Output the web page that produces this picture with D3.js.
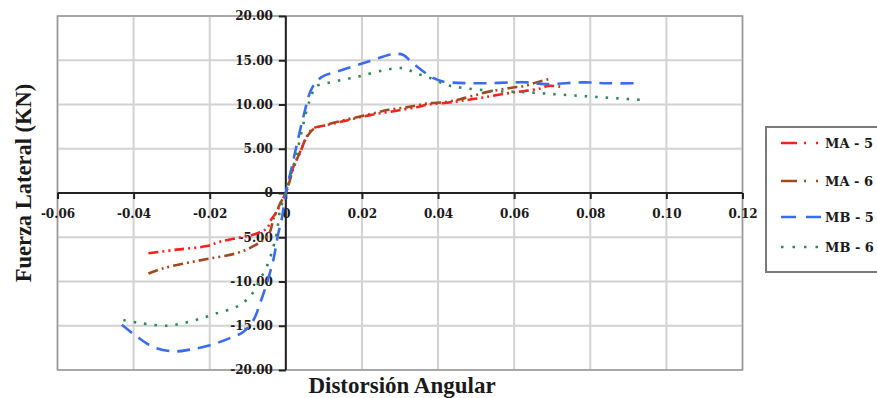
<!DOCTYPE html>
<html>
<head>
<meta charset="utf-8">
<script src="https://cdn.jsdelivr.net/npm/d3@7"></script>
<style>
  html, body { margin: 0; padding: 0; background: #ffffff; }
  svg { display: block; }
</style>
</head>
<body>
<svg id="chart" width="877" height="398"></svg>
<script>
// ---------------- DATA ----------------
const seriesNames = ["MA - 5", "MA - 6", "MB - 5", "MB - 6"];

const xTicks = [-0.06, -0.04, -0.02, 0, 0.02, 0.04, 0.06, 0.08, 0.10, 0.12];
const yTicks = [-20, -15, -10, -5, 0, 5, 10, 15, 20];

// [distorsión angular, fuerza lateral (KN)]
const ma5 = [
  [-0.0361, -6.8], [-0.0287, -6.4], [-0.0208, -6.0], [-0.0173, -5.5], [-0.0129, -5.1],
  [-0.0085, -4.7], [-0.0050, -4.0], [-0.0037, -2.9], [-0.0025, -2.2], [-0.0010, -0.8], [0, 0],
  [0.0020, 3.0], [0.0037, 4.5], [0.0055, 6.4], [0.0072, 7.3], [0.0099, 7.6], [0.0160, 8.2],
  [0.0221, 8.8], [0.0291, 9.3], [0.0344, 9.7], [0.0375, 10.0], [0.0423, 10.2], [0.0475, 10.5],
  [0.0519, 10.8], [0.0572, 11.2], [0.0624, 11.5], [0.0668, 11.8], [0.0690, 12.1], [0.0725, 12.0]
];
const ma6 = [
  [-0.0361, -9.1], [-0.0322, -8.5], [-0.0260, -7.9], [-0.0199, -7.4], [-0.0129, -6.8],
  [-0.0094, -6.2], [-0.0059, -5.3], [-0.0042, -4.4], [-0.0033, -3.0], [-0.0015, -1.2], [0, 0],
  [0.0020, 2.8], [0.0037, 4.6], [0.0055, 6.3], [0.0072, 7.2], [0.0099, 7.6], [0.0160, 8.3],
  [0.0220, 8.9], [0.0270, 9.4], [0.0320, 9.7], [0.0370, 10.1], [0.0423, 10.3], [0.0458, 10.6],
  [0.0502, 11.1], [0.0528, 11.4], [0.0594, 11.9], [0.0629, 12.1], [0.0659, 12.5], [0.0694, 12.9]
];
const mb5 = [
  [-0.0431, -14.9], [-0.0392, -16.2], [-0.0348, -17.4], [-0.0296, -17.9], [-0.0252, -17.7],
  [-0.0199, -17.2], [-0.0147, -16.4], [-0.0112, -15.7], [-0.0085, -14.35], [-0.0068, -12.5],
  [-0.0050, -10.2], [-0.0033, -7.6], [-0.0020, -4.6], [-0.0011, -3.0], [0, 0],
  [0.0016, 3.0], [0.0046, 8.6], [0.0068, 11.8], [0.0094, 13.1], [0.0134, 13.7], [0.0213, 14.8],
  [0.0283, 15.7], [0.0309, 15.6], [0.0330, 14.8], [0.0387, 13.0], [0.0413, 12.6], [0.0500, 12.4],
  [0.0634, 12.5], [0.0680, 12.3], [0.0780, 12.5], [0.0844, 12.4], [0.0918, 12.4]
];
const mb6 = [
  [-0.0427, -14.35], [-0.0383, -14.7], [-0.0313, -15.0], [-0.0269, -14.7], [-0.0225, -14.2],
  [-0.0182, -13.6], [-0.0129, -12.85], [-0.0094, -11.7], [-0.0068, -9.8], [-0.0046, -7.9],
  [-0.0033, -6.1], [-0.0024, -4.6], [-0.0015, -1.9], [0, 0],
  [0.0010, 1.8], [0.0024, 3.7], [0.0055, 9.4], [0.0068, 11.1], [0.0077, 12.0], [0.0107, 12.4],
  [0.0151, 12.8], [0.0195, 13.2], [0.0260, 13.9], [0.0309, 14.1], [0.0344, 13.5], [0.0379, 13.0],
  [0.0423, 12.2], [0.0445, 12.0], [0.0480, 11.8], [0.0554, 11.5], [0.0624, 11.4], [0.0694, 11.2],
  [0.0765, 11.0], [0.0800, 10.9], [0.0834, 10.8], [0.0870, 10.7], [0.0905, 10.6], [0.0940, 10.5]
];

const xTitle = "Distorsión Angular";
const yTitle = "Fuerza Lateral (KN)";

// ---------------- STYLE ----------------
const seriesData = [ma5, ma6, mb5, mb6];
const colors = ["#ff1f1f", "#a4481f", "#3a6cf2", "#2e8b57"];
const dashes = ["10,4,2,4,2,4", "10,4,2,4,2,4", "13,8", "2.5,8"];
const legendDashes = ["16,7,2,10,2,8", "16,7,2,10,2,8", "15,10", "2.5,9"];

const svg = d3.select("#chart");
const x = d3.scaleLinear().domain([-0.06, 0.12]).range([57.5, 742.5]);
const y = d3.scaleLinear().domain([-20, 20]).range([370, 16]);

// gridlines
const grid = svg.append("g");
grid.selectAll("line.v").data(xTicks).join("line")
  .attr("x1", d => x(d)).attr("x2", d => x(d))
  .attr("y1", y(20)).attr("y2", y(-20))
  .attr("stroke", "#d2d2d2").attr("stroke-width", 2);
grid.selectAll("line.h").data(yTicks).join("line")
  .attr("x1", x(-0.06)).attr("x2", x(0.12))
  .attr("y1", d => y(d)).attr("y2", d => y(d))
  .attr("stroke", "#d2d2d2").attr("stroke-width", 2);

// plot border
svg.append("rect")
  .attr("x", x(-0.06)).attr("y", y(20))
  .attr("width", x(0.12) - x(-0.06)).attr("height", y(-20) - y(20))
  .attr("fill", "none").attr("stroke", "#9a9a9a").attr("stroke-width", 1.5);

const locale = d3.formatLocale({decimal: ".", thousands: ",", grouping: [3], currency: ["", ""], minus: "-"});
const f2 = locale.format(".2f");
const fmt = d => d === 0 ? "0" : f2(d);
const tickFont = "'DejaVu Serif', serif";

// Y axis at x = 0
const yAxis = svg.append("g")
  .attr("transform", `translate(${x(0)},0)`)
  .call(d3.axisLeft(y).tickValues(yTicks).tickFormat(fmt).tickSize(7).tickPadding(6));
yAxis.select(".domain").remove();
yAxis.selectAll(".tick line").attr("stroke", "#222").attr("stroke-width", 2);
yAxis.selectAll(".tick text")
  .attr("font-family", tickFont).attr("font-weight", "bold").attr("font-size", 12)
  .attr("fill", "#1a1a1a");

// X axis at y = 0
const xAxis = svg.append("g")
  .attr("transform", `translate(0,${y(0)})`)
  .call(d3.axisBottom(x).tickValues(xTicks).tickFormat(fmt).tickSize(6).tickPadding(10));
xAxis.select(".domain").remove();
xAxis.selectAll(".tick line").attr("stroke", "#222").attr("stroke-width", 2);
xAxis.selectAll(".tick text")
  .attr("font-family", tickFont).attr("font-weight", "bold").attr("font-size", 12)
  .attr("fill", "#1a1a1a");

// axis lines
svg.append("line")
  .attr("x1", x(-0.06)).attr("x2", x(0.12)).attr("y1", y(0)).attr("y2", y(0))
  .attr("stroke", "#222").attr("stroke-width", 2);
svg.append("line")
  .attr("x1", x(0)).attr("x2", x(0)).attr("y1", y(20)).attr("y2", y(-20))
  .attr("stroke", "#222").attr("stroke-width", 2);

// series lines
const line = d3.line()
  .x(d => x(d[0])).y(d => y(d[1]))
  .curve(d3.curveCatmullRom.alpha(0.5));

svg.append("g").selectAll("path").data(seriesData).join("path")
  .attr("d", d => line(d))
  .attr("fill", "none")
  .attr("stroke", (d, i) => colors[i])
  .attr("stroke-width", 2.6)
  .attr("stroke-dasharray", (d, i) => dashes[i]);

// Titles
svg.append("text")
  .attr("x", 402).attr("y", 393)
  .attr("text-anchor", "middle")
  .attr("font-family", "'Liberation Serif', serif").attr("font-weight", "bold")
  .attr("font-size", 23).attr("fill", "#1a1a1a")
  .text(xTitle);

svg.append("text")
  .attr("transform", "translate(31,183) rotate(-90)")
  .attr("text-anchor", "middle")
  .attr("font-family", "'Liberation Serif', serif").attr("font-weight", "bold")
  .attr("font-size", 22.5).attr("fill", "#1a1a1a")
  .text(yTitle);

// Legend
const legend = svg.append("g");
legend.append("rect")
  .attr("x", 766).attr("y", 127).attr("width", 140).attr("height", 145)
  .attr("fill", "#fff").attr("stroke", "#7a7a7a").attr("stroke-width", 2);
const legendY = [143, 181, 217, 247];
const items = legend.selectAll("g.item").data(seriesNames).join("g")
  .attr("transform", (d, i) => `translate(0,${legendY[i]})`);
items.append("line")
  .attr("x1", 781).attr("x2", 824).attr("y1", 0).attr("y2", 0)
  .attr("stroke", (d, i) => colors[i]).attr("stroke-width", 2.6)
  .attr("stroke-dasharray", (d, i) => legendDashes[i]);
items.append("text")
  .attr("x", 825).attr("y", 5)
  .attr("font-family", tickFont).attr("font-weight", "bold")
  .attr("font-size", 13).attr("fill", "#1a1a1a")
  .text(d => d);
</script>
</body>
</html>
